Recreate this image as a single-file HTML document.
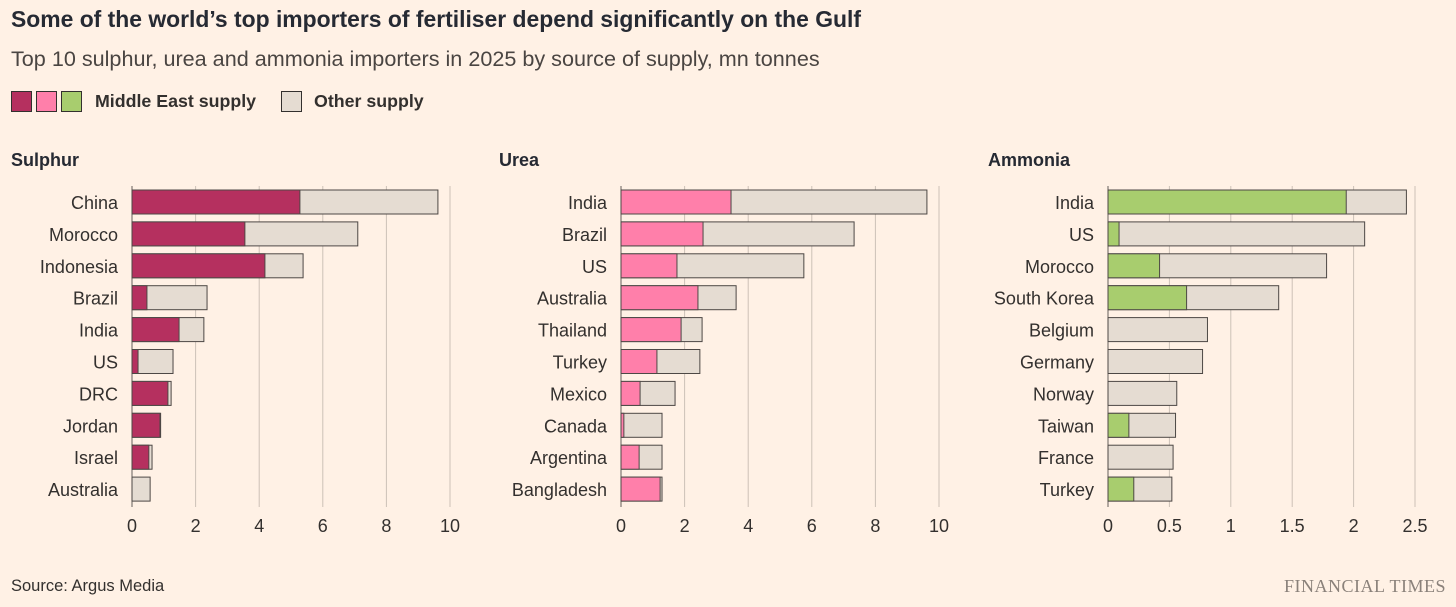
<!DOCTYPE html>
<html><head><meta charset="utf-8"><style>
body{margin:0;background:#fff1e5;font-family:"Liberation Sans",sans-serif;color:#33302e;}
#wrap{position:relative;width:1456px;height:607px;overflow:hidden;}
.t{position:absolute;white-space:nowrap;}
</style></head><body>
<div id="wrap">
<div class="t" style="left:11px;top:6px;font-size:22.9px;font-weight:bold;color:#262a33;">Some of the world’s top importers of fertiliser depend significantly on the Gulf</div>
<div class="t" style="left:11px;top:46px;font-size:21.6px;color:#4a4542;">Top 10 sulphur, urea and ammonia importers in 2025 by source of supply, mn tonnes</div>
<div style="position:absolute;left:11px;top:91px;height:22px;">
 <span style="position:absolute;left:0;top:0;width:19px;height:19px;background:#b5305f;border:1px solid #33302e;"></span>
 <span style="position:absolute;left:25px;top:0;width:19px;height:19px;background:#ff7faa;border:1px solid #33302e;"></span>
 <span style="position:absolute;left:50px;top:0;width:19px;height:19px;background:#a8cd6e;border:1px solid #33302e;"></span>
 <span class="t" style="left:84px;top:0;font-size:17.8px;font-weight:bold;">Middle East supply</span>
 <span style="position:absolute;left:270px;top:0;width:19px;height:19px;background:#e5dcd2;border:1px solid #33302e;"></span>
 <span class="t" style="left:303px;top:0;font-size:17.8px;font-weight:bold;">Other supply</span>
</div>
<svg id="svg" width="1456" height="607" style="position:absolute;left:0;top:0"></svg>
<div class="t" style="left:11px;top:577px;font-size:16.5px;">Source: Argus Media</div>
<div class="t" style="right:10px;top:576px;font-size:18px;font-family:'Liberation Serif',serif;color:#8a817a;letter-spacing:0.5px;">FINANCIAL TIMES</div>
</div>
<script>
const sulphurCats=["China","Morocco","Indonesia","Brazil","India","US","DRC","Jordan","Israel","Australia"];
const sulphurME=[5.28,3.55,4.18,0.47,1.48,0.19,1.13,0.88,0.53,0];
const sulphurTotal=[9.62,7.1,5.38,2.36,2.26,1.29,1.23,0.9,0.63,0.57];
const sulphurTicks=[0,2,4,6,8,10];
const ureaCats=["India","Brazil","US","Australia","Thailand","Turkey","Mexico","Canada","Argentina","Bangladesh"];
const ureaME=[3.46,2.58,1.76,2.42,1.89,1.13,0.6,0.09,0.57,1.23];
const ureaTotal=[9.62,7.33,5.75,3.62,2.55,2.48,1.7,1.29,1.29,1.29];
const ureaTicks=[0,2,4,6,8,10];
const ammoniaCats=["India","US","Morocco","South Korea","Belgium","Germany","Norway","Taiwan","France","Turkey"];
const ammoniaME=[1.94,0.09,0.42,0.64,0,0,0,0.17,0,0.21];
const ammoniaTotal=[2.43,2.09,1.78,1.39,0.81,0.77,0.56,0.55,0.53,0.52];
const ammoniaTicks=[0,0.5,1,1.5,2,2.5];
const ammoniaTickLabels=["0","0.5","1","1.5","2","2.5"];

const NS="http://www.w3.org/2000/svg";
const svg=document.getElementById('svg');
function mk(tag,attrs,parent){const e=document.createElementNS(NS,tag);for(const k in attrs)e.setAttribute(k,attrs[k]);(parent||svg).appendChild(e);return e;}
function panel(key,title,titleX,x0,pxPerUnit,cats,me,tot,ticks,tickLabels,color){
 const g=mk('g',{});
 
 
 const xs=v=>x0+v*pxPerUnit;
 const ys=i=>190+i*31.9;
 const tt=mk('text',{x:titleX,y:166,'font-size':18,'font-weight':'bold',fill:'#262a33','font-family':'Liberation Sans, sans-serif'},g);
 tt.textContent=title;
 
 
 ticks.forEach((t,i)=>{
  const l=mk('line',{x1:xs(t),x2:xs(t),y1:186,y2:507,stroke:t===0?'#66605c':'#ccc1b7','stroke-width':1},g);
  
  
  const tx=mk('text',{x:xs(t),y:532,'font-size':18,'text-anchor':'middle',fill:'#33302e','font-family':'Liberation Sans, sans-serif'},g);
  tx.textContent=tickLabels?tickLabels[i]:String(t);
  
  
 });
 cats.forEach((c,i)=>{
  const y=ys(i);
  const lb=mk('text',{x:x0-14,y:y+19,'font-size':18,'text-anchor':'end',fill:'#33302e','font-family':'Liberation Sans, sans-serif'},g);
  lb.textContent=c;
  
  
  const o=mk('rect',{x:xs(0),y:y,width:Math.max(0,xs(tot[i])-xs(0)),height:24,fill:'#e5dcd2',stroke:'#4d4845','stroke-width':1},g);
  
  
  if(me[i]>0){
   const m=mk('rect',{x:xs(0),y:y,width:xs(me[i])-xs(0),height:24,fill:color,stroke:'#4d4845','stroke-width':1},g);
   
   
  }
 });
}
panel('sulphur','Sulphur',11,132,31.8,sulphurCats,sulphurME,sulphurTotal,sulphurTicks,null,'#b5305f');
panel('urea','Urea',499,621,31.8,ureaCats,ureaME,ureaTotal,ureaTicks,null,'#ff7faa');
panel('ammonia','Ammonia',988,1108,122.8,ammoniaCats,ammoniaME,ammoniaTotal,ammoniaTicks,ammoniaTickLabels,'#a8cd6e');
</script>
</body></html>
